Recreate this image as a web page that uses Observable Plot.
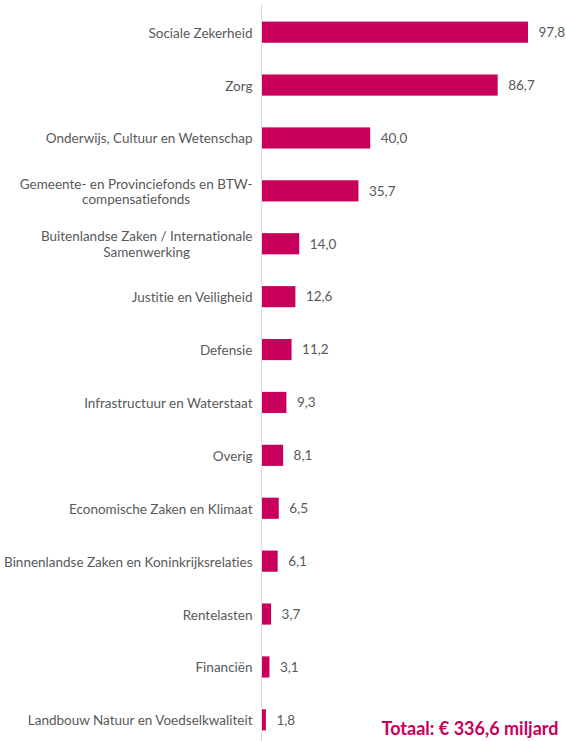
<!DOCTYPE html>
<html>
<head>
<meta charset="utf-8">
<script src="https://cdn.jsdelivr.net/npm/d3@7"></script>
<script src="https://cdn.jsdelivr.net/npm/@observablehq/plot@0.6"></script>
<style>
  body { margin: 0; background: #fff; }
  #chart { position: relative; width: 566px; height: 741px; }
  #chart svg text { font-variant-ligatures: none; font-feature-settings: "liga" 0; }
</style>
</head>
<body>
<div id="chart"></div>
<script>
const categories = [
  "Sociale Zekerheid",
  "Zorg",
  "Onderwijs, Cultuur en Wetenschap",
  "Gemeente- en Provinciefonds en BTW-\ncompensatiefonds",
  "Buitenlandse Zaken / Internationale\nSamenwerking",
  "Justitie en Veiligheid",
  "Defensie",
  "Infrastructuur en Waterstaat",
  "Overig",
  "Economische Zaken en Klimaat",
  "Binnenlandse Zaken en Koninkrijksrelaties",
  "Rentelasten",
  "Financiën",
  "Landbouw Natuur en Voedselkwaliteit"
];
const values = [97.8, 86.7, 40.0, 35.7, 14.0, 12.6, 11.2, 9.3, 8.1, 6.5, 6.1, 3.7, 3.1, 1.8];
const totalLabel = "Totaal: € 336,6 miljard";

const data = categories.map((c, i) => ({category: c, value: values[i]}));
const fmt = v => v.toFixed(1).replace(".", ",");
const magenta = "#C9005B";
const grey = "#595959";

const chart = Plot.plot({
  width: 566,
  height: 741,
  marginLeft: 261,
  marginRight: 32,
  marginTop: 11,
  marginBottom: 0,
  style: {fontFamily: "Lato, sans-serif", fontSize: "13.5px", color: grey, background: "#fff"},
  x: {domain: [0, 100], axis: null},
  y: {domain: categories, paddingInner: 0.6, paddingOuter: 0.2, round: false, label: null},
  marks: [
    Plot.axisY({tickSize: 0, tickPadding: 9, lineHeight: 1.15, fill: grey, fontSize: 13.5}),
    Plot.barX(data, {x: "value", y: "category", fill: magenta}),
    Plot.ruleX([0], {stroke: "#d9d9d9", strokeWidth: 1, insetTop: -6}),
    Plot.text(data, {x: "value", y: "category", text: d => fmt(d.value), textAnchor: "start", dx: 10, fill: grey, fontSize: 13.5}),
    Plot.text([totalLabel], {frameAnchor: "bottom-right", text: d => d, dx: 24, dy: -7, fill: magenta, fontWeight: "bold", fontSize: 18, textAnchor: "end"})
  ]
});

document.getElementById("chart").appendChild(chart);

// Center the wrapped lines of multi-line tick labels within their block (as in the original)
chart.querySelectorAll("[aria-label='y-axis tick label'] text").forEach(t => {
  const spans = t.querySelectorAll("tspan");
  if (spans.length > 1) {
    let w = 0;
    spans.forEach(s => { w = Math.max(w, s.getComputedTextLength()); });
    t.setAttribute("text-anchor", "middle");
    const tr = t.getAttribute("transform") || "";
    t.setAttribute("transform", tr + ` translate(${-w / 2},0)`);
  }
});
</script>
</body>
</html>
